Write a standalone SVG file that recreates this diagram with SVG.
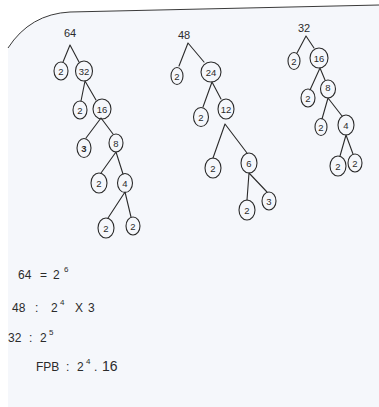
<svg xmlns="http://www.w3.org/2000/svg" width="379" height="407" viewBox="0 0 379 407">
<style>
.n{fill:none;stroke:#2b2b2b;stroke-width:1.1}
.t{font-family:"Liberation Sans",Arial,sans-serif;font-size:9.5px;fill:#2b2b2b;text-anchor:middle;dominant-baseline:central}
.r{font-size:11px}
.e{stroke:#2b2b2b;stroke-width:1.1;fill:none;stroke-linecap:round}
.w{font-family:"Liberation Sans",Arial,sans-serif;font-size:12px;fill:#2b2b2b}
.s{font-size:8px}
.b{font-size:14px}
</style>
<rect width="379" height="407" fill="#ffffff"/>
<path d="M8,48 Q30,14 70,12 L379,5 L379,407 L8,407 Z" fill="#f5f7fb"/>
<path d="M8,48 Q30,14 70,12 L379,5" fill="none" stroke="#3a3a3a" stroke-width="1"/>

<g id="connectors">
<path class="e" d="M70,45 L63,62 M70,45 L79,62"/>
<path class="e" d="M85,81 L81,101 M85,81 L96,100"/>
<path class="e" d="M101,118 L86,138 M101,118 L113,134"/>
<path class="e" d="M116,152 L101,173 M116,152 L123,174"/>
<path class="e" d="M125,192 L108,218 M125,192 L131,217"/>

<path class="e" d="M188,43 L179,66 M188,43 L204,62"/>
<path class="e" d="M212,82 L203,107 M212,82 L221,99"/>
<path class="e" d="M225,124 L213,158 M225,124 L247,153"/>
<path class="e" d="M249,173 L247,200 M249,173 L267,192"/>

<path class="e" d="M306,36 L297,53 M306,36 L314,48"/>
<path class="e" d="M320,68 L310,90 M320,68 L325,80"/>
<path class="e" d="M328,98 L322,119 M328,98 L342,116"/>
<path class="e" d="M346,135 L340,156 M346,135 L353,154"/>
</g>

<g id="tree64">
<text class="t r" x="70" y="33">64</text>
<g id="n64-2a"><ellipse class="n" cx="61" cy="71" rx="7" ry="9"/><text class="t" x="61" y="71">2</text></g>
<g id="n64-32"><ellipse class="n" cx="84" cy="71" rx="8.5" ry="10"/><text class="t" x="84" y="71">32</text></g>
<g id="n64-2b"><ellipse class="n" cx="80" cy="110" rx="7" ry="9"/><text class="t" x="80" y="110">2</text></g>
<g id="n64-16"><ellipse class="n" cx="102" cy="109" rx="9" ry="10"/><text class="t" x="102" y="109">16</text></g>
<g id="n64-2c"><ellipse class="n" cx="84" cy="148" rx="7" ry="9.5"/><text class="t" x="84" y="148" font-weight="bold">3</text></g>
<g id="n64-8"><ellipse class="n" cx="116" cy="143" rx="7" ry="9"/><text class="t" x="116" y="143">8</text></g>
<g id="n64-2d"><ellipse class="n" cx="99" cy="183" rx="8" ry="10"/><text class="t" x="99" y="183">2</text></g>
<g id="n64-4"><ellipse class="n" cx="125" cy="183" rx="7.5" ry="9.5"/><text class="t" x="125" y="183">4</text></g>
<g id="n64-2e"><ellipse class="n" cx="106" cy="228" rx="8" ry="10"/><text class="t" x="106" y="228">2</text></g>
<g id="n64-2f"><ellipse class="n" cx="133" cy="226" rx="7" ry="9"/><text class="t" x="133" y="226">2</text></g>
</g>

<g id="tree48">
<text class="t r" x="184" y="35">48</text>
<g id="n48-2a"><ellipse class="n" cx="177" cy="76" rx="6" ry="8.5"/><text class="t" x="177" y="76">2</text></g>
<g id="n48-24"><ellipse class="n" cx="211" cy="72" rx="10" ry="10"/><text class="t" x="211" y="72">24</text></g>
<g id="n48-2b"><ellipse class="n" cx="201" cy="117" rx="7.5" ry="9.5"/><text class="t" x="201" y="117">2</text></g>
<g id="n48-12"><ellipse class="n" cx="226" cy="109" rx="8" ry="10"/><text class="t" x="226" y="109">12</text></g>
<g id="n48-2c"><ellipse class="n" cx="213" cy="168" rx="8" ry="10"/><text class="t" x="213" y="168">2</text></g>
<g id="n48-6"><ellipse class="n" cx="249" cy="163" rx="8" ry="10"/><text class="t" x="249" y="163">6</text></g>
<g id="n48-2d"><ellipse class="n" cx="247" cy="210" rx="8" ry="10"/><text class="t" x="247" y="210">2</text></g>
<g id="n48-3"><ellipse class="n" cx="269" cy="201" rx="7" ry="9"/><text class="t" x="269" y="201">3</text></g>
</g>

<g id="tree32">
<text class="t r" x="304" y="28">32</text>
<g id="n32-2a"><ellipse class="n" cx="294" cy="61" rx="6" ry="8.5"/><text class="t" x="294" y="61">2</text></g>
<g id="n32-16"><ellipse class="n" cx="319" cy="58" rx="9" ry="10"/><text class="t" x="319" y="58">16</text></g>
<g id="n32-2b"><ellipse class="n" cx="308" cy="98" rx="7" ry="9"/><text class="t" x="308" y="98">2</text></g>
<g id="n32-8"><ellipse class="n" cx="328" cy="89" rx="7.5" ry="9"/><text class="t" x="328" y="87">8</text></g>
<g id="n32-2c"><ellipse class="n" cx="321" cy="127" rx="6" ry="8.5"/><text class="t" x="321" y="127">2</text></g>
<g id="n32-4"><ellipse class="n" cx="346" cy="125" rx="8" ry="10"/><text class="t" x="346" y="125">4</text></g>
<g id="n32-2d"><ellipse class="n" cx="338" cy="166" rx="8" ry="10"/><text class="t" x="338" y="166">2</text></g>
<g id="n32-2e"><ellipse class="n" cx="355" cy="163" rx="7" ry="9"/><text class="t" x="355" y="163">2</text></g>
</g>

<g id="results">
<text class="w" y="279"><tspan x="18">64</tspan><tspan x="40">=</tspan><tspan x="53">2</tspan><tspan class="s" x="64" y="272">6</tspan></text>
<text class="w" y="312"><tspan x="12">48</tspan><tspan x="35">:</tspan><tspan x="51">2</tspan><tspan class="s" x="60" y="305">4</tspan><tspan x="75" y="312">X</tspan><tspan x="88">3</tspan></text>
<text class="w" y="342"><tspan x="8">32</tspan><tspan x="29">:</tspan><tspan x="40">2</tspan><tspan class="s" x="49" y="335">5</tspan></text>
<text class="w" y="371"><tspan x="36">FPB</tspan><tspan x="66">:</tspan><tspan x="77">2</tspan><tspan class="s" x="86" y="364">4</tspan><tspan x="94" y="371">.</tspan><tspan class="b" x="102">16</tspan></text>
</g>
</svg>
